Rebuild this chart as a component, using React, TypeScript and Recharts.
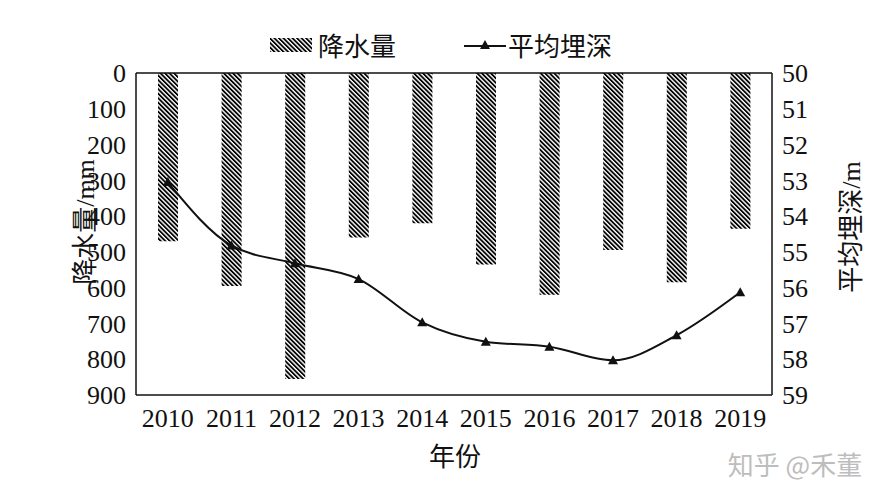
import React from 'react';
import { ComposedChart, Bar, Line, XAxis, YAxis, ReferenceLine } from 'recharts';

const years = ['2010', '2011', '2012', '2013', '2014', '2015', '2016', '2017', '2018', '2019'];
const rainfall = [470, 595, 855, 460, 420, 535, 620, 495, 585, 435];
const depth = [53.05, 54.82, 55.32, 55.76, 56.97, 57.51, 57.65, 58.03, 57.33, 56.13];
const rainTicks = [0, 100, 200, 300, 400, 500, 600, 700, 800, 900];
const depthTicks = [50, 51, 52, 53, 54, 55, 56, 57, 58, 59];

const data = years.map((y, i) => ({ year: y, rain: rainfall[i], depth: depth[i] }));

const FONT = "'Liberation Serif', 'Times New Roman', 'Noto Sans CJK SC', serif";
const tickStyle = { fill: '#111', fontSize: 26, fontFamily: FONT };

const Triangle = (props: any) => {
  const { cx, cy } = props;
  if (cx == null || cy == null) return null;
  return <path d={`M${cx},${cy - 5} L${cx + 5},${cy + 4} L${cx - 5},${cy + 4} Z`} fill="#111" />;
};

export default function App() {
  return (
    <div style={{ position: 'absolute', left: 0, top: 0, width: 885, height: 500, background: '#fff', fontFamily: FONT }}>
      <svg width={0} height={0} style={{ position: 'absolute' }}>
        <defs>
          <pattern id="hatch" width={3.2} height={3.2} patternUnits="userSpaceOnUse" patternTransform="rotate(-45)">
            <rect width={3.2} height={3.2} fill="#fff" />
            <line x1={0.9} y1={0} x2={0.9} y2={3.2} stroke="#000" strokeWidth={1.8} />
          </pattern>
        </defs>
      </svg>

      {/* legend */}
      <div style={{ position: 'absolute', left: 270, top: 26, display: 'flex', alignItems: 'center', fontSize: 26, color: '#111' }}>
        <svg width={42} height={20}>
          <rect x={0} y={3} width={42} height={14} fill="url(#hatch)" />
        </svg>
        <span style={{ marginLeft: 6 }}>降水量</span>
        <svg width={42} height={20} style={{ marginLeft: 68 }}>
          <line x1={0} y1={11} x2={42} y2={11} stroke="#111" strokeWidth={2} />
          <path d="M21,5 L26,14 L16,14 Z" fill="#111" />
        </svg>
        <span style={{ marginLeft: 2 }}>平均埋深</span>
      </div>

      <ComposedChart width={885} height={500} data={data} margin={{ top: 73, right: 68, bottom: 75, left: 76 }}>
        <XAxis
          dataKey="year"
          tick={tickStyle}
          tickLine={false}
          tickMargin={8}
          height={30}
          axisLine={{ stroke: '#111', strokeWidth: 1.5 }}
          interval={0}
        />
        <YAxis
          yAxisId="left"
          reversed
          domain={[0, 900]}
          ticks={rainTicks}
          interval={0}
          width={60}
          tick={tickStyle}
          tickLine={false}
          tickMargin={4}
          axisLine={{ stroke: '#111', strokeWidth: 1.5 }}
        />
        <YAxis
          yAxisId="right"
          orientation="right"
          reversed
          domain={[50, 59]}
          ticks={depthTicks}
          interval={0}
          width={45}
          tick={tickStyle}
          tickLine={false}
          tickMargin={4}
          axisLine={{ stroke: '#111', strokeWidth: 1.5 }}
        />
        <ReferenceLine yAxisId="left" y={0} stroke="#111" strokeWidth={1.5} />
        <Bar yAxisId="left" dataKey="rain" barSize={20} fill="url(#hatch)" isAnimationActive={false} />
        <Line
          yAxisId="right"
          dataKey="depth"
          type="monotone"
          stroke="#111"
          strokeWidth={2}
          dot={<Triangle />}
          activeDot={false}
          isAnimationActive={false}
        />
        <text x={85} y={222} transform="rotate(-90 85 222)" textAnchor="middle" dominantBaseline="central" fontSize={26} fill="#111" fontFamily={FONT}>
          降水量/mm
        </text>
        <text x={851} y={227} transform="rotate(-90 851 227)" textAnchor="middle" dominantBaseline="central" fontSize={26} fill="#111" fontFamily={FONT}>
          平均埋深/m
        </text>
        <text x={455} y={457} textAnchor="middle" dominantBaseline="central" fontSize={26} fill="#111" fontFamily={FONT}>
          年份
        </text>
        <text x={795} y={463} textAnchor="middle" dominantBaseline="central" fontSize={26} fill="#bdbdbd" fontFamily="'Noto Sans CJK SC', sans-serif">
          知乎 @禾董
        </text>
      </ComposedChart>
    </div>
  );
}
